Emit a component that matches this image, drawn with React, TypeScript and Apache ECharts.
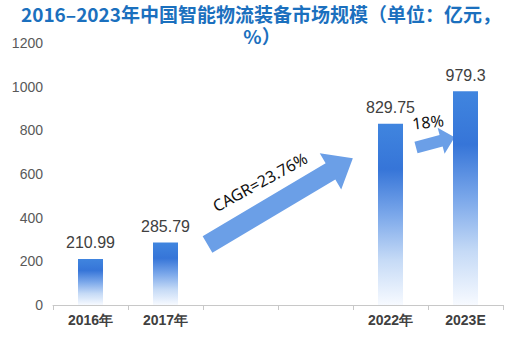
import React, { useEffect, useRef } from "react";
import * as echarts from "echarts";

const titleLine1 = "2016–2023年中国智能物流装备市场规模（单位：亿元，";
const titleLine2 = "%）";
const categories = ["2016年", "2017年", "", "", "2022年", "2023E"];
const values: (number | null)[] = [210.99, 285.79, null, null, 829.75, 979.3];
const yTicks = { min: 0, max: 1200, interval: 200 };
const cagrText = "CAGR=23.76%";
const yoyText = "18%";

function arrowPoints(L: number, w: number, H: number, h: number) {
  return [
    [0, -w / 2],
    [L - h, -w / 2],
    [L - h, -H / 2],
    [L, 0],
    [L - h, H / 2],
    [L - h, w / 2],
    [0, w / 2],
  ];
}

export default function App() {
  const ref = useRef<HTMLDivElement>(null);
  useEffect(() => {
    if (!ref.current) return;
    const chart = echarts.init(ref.current, null, { renderer: "svg" });
    const font = "'Liberation Sans', Arial, sans-serif";
    const titleStyle = {
      color: "#1b70be",
      fontSize: 19,
      lineHeight: 20,
      fontWeight: "bold",
      fontFamily: "'Noto Sans CJK SC', sans-serif",
    };
    chart.setOption({
      animation: false,
      backgroundColor: "#ffffff",
      title: [
        { text: titleLine1, left: 261, textAlign: "center", top: 3, padding: 0, textStyle: titleStyle },
        { text: titleLine2, left: 262, textAlign: "center", top: 25, padding: 0, textStyle: titleStyle },
      ],
      grid: { left: 53, right: 7, top: 43, bottom: 35 },
      xAxis: {
        type: "category",
        data: categories,
        axisLine: { lineStyle: { color: "#c8c8c8", width: 1 } },
        axisTick: { show: true, alignWithLabel: false, lineStyle: { color: "#c8c8c8" } },
        axisLabel: {
          color: "#404040",
          fontSize: 14,
          fontWeight: "bold",
          fontFamily: font,
          margin: 8,
          interval: 0,
        },
      },
      yAxis: {
        type: "value",
        min: yTicks.min,
        max: yTicks.max,
        interval: yTicks.interval,
        splitLine: { show: false },
        axisLine: { show: false },
        axisTick: { show: false },
        axisLabel: {
          color: "#595959",
          fontSize: 14,
          fontFamily: font,
          margin: 10,
          formatter: (v: number) => String(v),
        },
      },
      series: [
        {
          type: "bar",
          data: values,
          barWidth: 25,
          itemStyle: {
            color: new echarts.graphic.LinearGradient(0, 0, 0, 1, [
              { offset: 0, color: "#4085df" },
              { offset: 0.25, color: "#3675d8" },
              { offset: 0.5, color: "#7aa7ea" },
              { offset: 0.75, color: "#c5daf6" },
              { offset: 1, color: "#f7faff" },
            ]),
          },
          label: {
            show: true,
            position: "top",
            distance: 8,
            color: "#404040",
            fontSize: 16,
            fontFamily: font,
          },
        },
      ],
      graphic: [
        {
          type: "group",
          x: 207.5,
          y: 244.5,
          rotation: 0.536,
          children: [
            {
              type: "polygon",
              shape: { points: arrowPoints(169, 19, 42, 26) },
              style: { fill: "#6b9fe7" },
            },
          ],
        },
        {
          type: "text",
          x: 260,
          y: 182,
          rotation: 0.5,
          style: {
            text: cagrText,
            fill: "#111111",
            fontSize: 16,
            fontFamily: "'Noto Sans', sans-serif",
            textAlign: "center",
            textVerticalAlign: "middle",
          },
        },
        {
          type: "group",
          x: 416,
          y: 147.5,
          rotation: 0.26,
          children: [
            {
              type: "polygon",
              shape: { points: arrowPoints(40, 12, 27, 14) },
              style: { fill: "#6b9fe7" },
            },
          ],
        },
        {
          type: "text",
          x: 428,
          y: 122,
          rotation: 0.12,
          style: {
            text: yoyText,
            fill: "#111111",
            fontSize: 16,
            fontFamily: "'Noto Sans', sans-serif",
            textAlign: "center",
            textVerticalAlign: "middle",
          },
        },
      ],
    });
    return () => chart.dispose();
  }, []);
  return <div ref={ref} style={{ width: 510, height: 340, position: "absolute", left: 0, top: 0 }} />;
}
